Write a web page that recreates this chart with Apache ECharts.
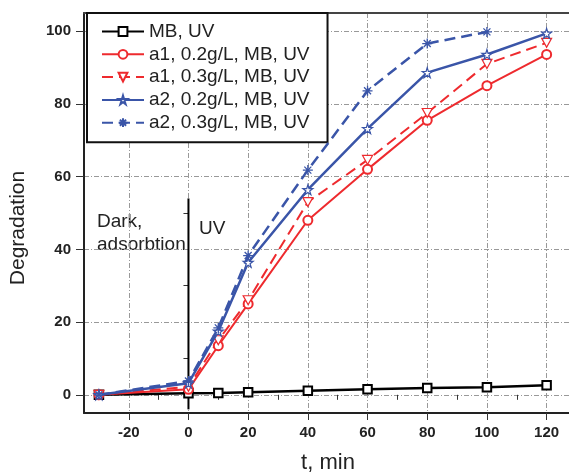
<!DOCTYPE html>
<html>
<head>
<meta charset="utf-8">
<script src="https://cdn.jsdelivr.net/npm/echarts@6/dist/echarts.min.js"></script>
<style>
  html, body { margin: 0; padding: 0; background: #fff; }
  #chart { width: 569px; height: 476px; }
</style>
</head>
<body>
<div id="chart"></div>
<script>
// time, min
const tMin = [-30, 0, 10, 20, 40, 60, 80, 100, 120];

// degradation values
const mbUV  = [0, 0.4, 0.5, 0.7, 1.1, 1.5, 1.9, 2.1, 2.6];
const a1_02 = [0, 1.5, 13.5, 25, 48, 62, 75.5, 85, 93.6];
const a1_03 = [0, 2.2, 15, 26, 53, 64.6, 77.5, 91, 96.8];
const a2_02 = [0, 3.2, 17.5, 36.4, 56.4, 73.2, 88.6, 93.6, 99.4];
const a2_03 = [0, 3.8, 18.4, 38.3, 61.8, 83.6, 96.6, 99.8, null];

const seriesNames = ['MB, UV', 'a1, 0.2g/L, MB, UV', 'a1, 0.3g/L, MB, UV', 'a2, 0.2g/L, MB, UV', 'a2, 0.3g/L, MB, UV'];

const xMajor = [-20, 0, 20, 40, 60, 80, 100, 120];
const xMinor = [-30, -10, 10, 30, 50, 70, 90, 110];
const yMajor = [0, 20, 40, 60, 80, 100];
const yMinor = [10, 30, 50, 70, 90];

// dark / UV separator
const darkLine = [[0, 54], [0, -4]];

const RED = '#ee2a2e';
const BLUE = '#3a55a8';
const FONT = '"Liberation Sans", Arial, sans-serif';

const symTriDown = 'path://M0,0 L10,0 L5,9 Z';
const symStar = 'path://M50,0 L61,35 L98,35 L68,57 L79,91 L50,70 L21,91 L32,57 L2,35 L39,35 Z';
const symAster = 'path://M5,0 L5,10 M0,5 L10,5 M1.5,1.5 L8.5,8.5 M8.5,1.5 L1.5,8.5';

function pairs(vals) {
  let out = [];
  tMin.forEach((t, i) => {
    if (vals[i] != null) out.push([t, vals[i]]);
  });
  return out;
}

const gridDash = [5, 2, 1, 2];
const X_MIN = -35, X_MAX = 127.5;

let chart = echarts.init(document.getElementById('chart'));

chart.setOption({
  backgroundColor: '#fff',
  animation: false,
  grid: { left: 84, top: 13, right: 0, bottom: 63, show: false },
  legend: {
    orient: 'vertical',
    left: 87, top: 13,
    data: seriesNames,
    backgroundColor: '#fff',
    borderColor: '#111',
    borderWidth: 2,
    borderRadius: 0,
    padding: [9, 18, 10, 14],
    itemWidth: 42,
    itemHeight: 11,
    itemGap: 3.8,
    textStyle: { fontFamily: FONT, fontSize: 19, color: '#222', lineHeight: 19 }
  },
  xAxis: [
    {
      type: 'value', min: X_MIN, max: X_MAX,
      axisLine: { show: true, onZero: false, lineStyle: { color: '#222', width: 2 } },
      axisTick: { show: true, customValues: xMajor, length: 7, lineStyle: { color: '#333', width: 1 } },
      axisLabel: { customValues: xMajor, margin: 12, fontFamily: FONT, fontSize: 15, fontWeight: 'bold', color: '#222' },
      splitLine: { show: true, lineStyle: { color: '#999', width: 1, type: gridDash } }
    },
    {
      type: 'value', min: X_MIN, max: X_MAX, position: 'bottom',
      axisLine: { show: false },
      axisTick: { show: true, customValues: xMinor, length: 5, lineStyle: { color: '#333', width: 1 } },
      axisLabel: { show: false },
      splitLine: { show: false }
    },
    {
      type: 'value', min: X_MIN, max: X_MAX, position: 'top',
      axisLine: { show: true, onZero: false, lineStyle: { color: '#444', width: 2 } },
      axisTick: { show: false },
      axisLabel: { show: false },
      splitLine: { show: false }
    }
  ],
  yAxis: [
    {
      type: 'value', min: -5, max: 105,
      axisLine: { show: true, onZero: false, lineStyle: { color: '#222', width: 2 } },
      axisTick: { show: true, customValues: yMajor, length: 8, lineStyle: { color: '#333', width: 1 } },
      axisLabel: { customValues: yMajor, margin: 13, fontFamily: FONT, fontSize: 15, fontWeight: 'bold', color: '#222' },
      splitLine: { show: true, lineStyle: { color: '#999', width: 1, type: gridDash } }
    },
    {
      type: 'value', min: -5, max: 105, position: 'left',
      axisLine: { show: false },
      axisTick: { show: true, customValues: yMinor, length: 5, lineStyle: { color: '#333', width: 1 } },
      axisLabel: { show: false },
      splitLine: { show: false }
    }
  ],
  graphic: [
    { type: 'text', left: 97, top: 212, style: { text: 'Dark,', font: '19px ' + FONT, fill: '#222' } },
    { type: 'text', left: 97, top: 235, style: { text: 'adsorbtion', font: '19px ' + FONT, fill: '#222' } },
    { type: 'text', left: 199, top: 219, style: { text: 'UV', font: '19px ' + FONT, fill: '#222' } },
    {
      type: 'text', x: 18, y: 228, rotation: Math.PI / 2,
      style: { text: 'Degradation', font: '21px ' + FONT, fill: '#222', align: 'center', verticalAlign: 'middle' }
    },
    {
      type: 'text', x: 328, y: 452,
      style: { text: 't, min', font: '22px ' + FONT, fill: '#222', align: 'center', verticalAlign: 'top' }
    }
  ],
  series: [
    {
      name: 'dark', type: 'line', data: darkLine, silent: true, symbol: 'none',
      lineStyle: { color: '#000', width: 2 }, z: 3
    },
    {
      name: seriesNames[0], type: 'line', data: pairs(mbUV),
      symbol: 'emptyRect', symbolSize: 8.5,
      lineStyle: { color: '#000', width: 2.5 },
      itemStyle: { color: '#000', borderWidth: 1.5 }, z: 4
    },
    {
      name: seriesNames[1], type: 'line', data: pairs(a1_02),
      symbol: 'emptyCircle', symbolSize: 9,
      lineStyle: { color: RED, width: 2 },
      itemStyle: { color: RED, borderWidth: 1.2 }, z: 5
    },
    {
      name: seriesNames[2], type: 'line', data: pairs(a1_03),
      symbol: symTriDown, symbolSize: [10, 9],
      lineStyle: { color: RED, width: 2, type: [11, 6] },
      itemStyle: { color: '#fff', borderColor: RED, borderWidth: 1.2 }, z: 5
    },
    {
      name: seriesNames[3], type: 'line', data: pairs(a2_02),
      symbol: symStar, symbolSize: 10,
      lineStyle: { color: BLUE, width: 2.5 },
      itemStyle: { color: '#fff', borderColor: BLUE, borderWidth: 1.2 }, z: 6
    },
    {
      name: seriesNames[4], type: 'line', data: pairs(a2_03),
      symbol: symAster, symbolSize: 10,
      lineStyle: { color: BLUE, width: 2.5, type: [11, 6] },
      itemStyle: { color: BLUE, borderColor: BLUE, borderWidth: 1.3 }, z: 6
    }
  ]
});
</script>
</body>
</html>
